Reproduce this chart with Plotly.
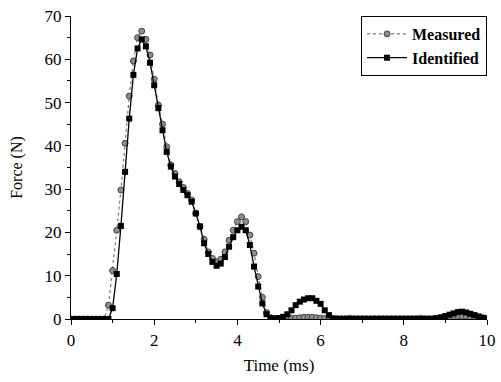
import plotly.graph_objects as go

time_ms = [
    0.0, 0.1, 0.2, 0.3, 0.4, 0.5, 0.6, 0.7, 0.8, 0.9,
    1.0, 1.1, 1.2, 1.3, 1.4, 1.5, 1.6, 1.7, 1.8, 1.9,
    2.0, 2.1, 2.2, 2.3, 2.4, 2.5, 2.6, 2.7, 2.8, 2.9,
    3.0, 3.1, 3.2, 3.3, 3.4, 3.5, 3.6, 3.7, 3.8, 3.9,
    4.0, 4.1, 4.2, 4.3, 4.4, 4.5, 4.6, 4.7, 4.8, 4.9,
    5.0, 5.1, 5.2, 5.3, 5.4, 5.5, 5.6, 5.7, 5.8, 5.9,
    6.0, 6.1, 6.2, 6.3, 6.4, 6.5, 6.6, 6.7, 6.8, 6.9,
    7.0, 7.1, 7.2, 7.3, 7.4, 7.5, 7.6, 7.7, 7.8, 7.9,
    8.0, 8.1, 8.2, 8.3, 8.4, 8.5, 8.6, 8.7, 8.8, 8.9,
    9.0, 9.1, 9.2, 9.3, 9.4, 9.5, 9.6, 9.7, 9.8, 9.9,
    10.0,
]

measured = [
    0, 0, 0, 0, 0, 0, 0, 0, 0, 3.2,
    11.2, 20.5, 29.8, 40.6, 51.5, 59.6, 65.0, 66.5, 64.6, 61.0,
    55.4, 49.4, 45.0, 39.8, 35.6, 33.6, 31.7, 30.4, 29.0, 27.5,
    24.4, 21.3, 18.4, 15.5, 14.0, 13.2, 13.8, 15.5, 18.2, 20.5,
    22.5, 23.6, 22.5, 19.4, 15.2, 9.8, 5.0, 1.5, 0.3, 0.1,
    0.1, 0.1, 0.1, 0.2, 0.2, 0.3, 0.4, 0.4, 0.4, 0.3,
    0.2, 0.1, 0.1, 0.1, 0.1, 0.1, 0.1, 0.2, 0.1, 0.1,
    0.1, 0.1, 0.1, 0.1, 0.1, 0.1, 0.1, 0.1, 0.1, 0.1,
    0.1, 0.1, 0.1, 0.1, 0.2, 0.1, 0.1, 0.1, 0.1, 0.2,
    0.3, 0.4, 0.5, 0.6, 0.6, 0.6, 0.5, 0.4, 0.3, 0.2,
    0.1,
]

identified = [
    0, 0, 0, 0, 0, 0, 0, 0, 0, 0,
    2.5, 10.4, 21.5, 34.0, 46.3, 56.4, 62.5, 64.6, 63.0, 59.2,
    54.0, 48.7, 43.6, 38.6, 35.2, 32.9, 31.2, 29.8, 28.6, 27.1,
    24.4, 21.4, 17.5, 15.0, 13.2, 12.3, 12.8, 14.3, 16.7, 18.9,
    20.5, 21.3, 20.5, 17.1, 12.1, 7.5, 3.6, 1.1, 0.2, 0.1,
    0.2, 0.5, 1.1, 2.0, 3.2, 4.0, 4.5, 4.8, 4.8, 4.2,
    3.5, 2.0, 0.9, 0.1, 0, 0, 0, 0, 0, 0,
    0, 0, 0, 0, 0, 0, 0, 0, 0, 0,
    0, 0, 0, 0, 0, 0, 0, 0, 0.2, 0.4,
    0.7, 1.0, 1.3, 1.6, 1.7, 1.5, 1.2, 0.9, 0.6, 0.3,
    0.1,
]

x_ticks = [0, 2, 4, 6, 8, 10]
y_ticks = [0, 10, 20, 30, 40, 50, 60, 70]

FONT = "Liberation Serif, Times New Roman, serif"

fig = go.Figure()
fig.add_trace(go.Scatter(
    x=time_ms, y=measured, name="Measured", mode="lines+markers",
    line=dict(color="#777777", width=1.2, dash="dot"),
    marker=dict(symbol="circle", size=6, color="#8c8c8c",
                line=dict(color="#444444", width=1)),
))
fig.add_trace(go.Scatter(
    x=time_ms, y=identified, name="Identified", mode="lines+markers",
    line=dict(color="black", width=1.3),
    marker=dict(symbol="square", size=6, color="black"),
))

axis_common = dict(
    showgrid=False, zeroline=False, showline=True, linecolor="black",
    linewidth=1.2, ticks="outside", ticklen=5, tickwidth=1.2, tickcolor="black",
    tickfont=dict(family=FONT, size=17, color="black"),
    automargin=False,
)

fig.update_layout(
    width=501, height=382,
    margin=dict(l=71, r=14, t=16, b=63),
    paper_bgcolor="white", plot_bgcolor="white",
    font=dict(family=FONT, color="black"),
    showlegend=True,
    legend=dict(
        x=1, y=1, xanchor="right", yanchor="top",
        bordercolor="black", borderwidth=1, bgcolor="white",
        font=dict(family=FONT, size=16, color="black", weight="bold"),
        tracegroupgap=0, itemwidth=40,
    ),
    xaxis=dict(
        range=[0, 10], tickvals=x_ticks,
        minor=dict(dtick=1, ticks="outside", ticklen=3, tickcolor="black", tickwidth=1),
        title=dict(text="Time (ms)", font=dict(family=FONT, size=17, color="black"), standoff=10),
        **axis_common,
    ),
    yaxis=dict(
        range=[0, 70], tickvals=y_ticks,
        minor=dict(dtick=5, ticks="outside", ticklen=3, tickcolor="black", tickwidth=1),
        title=dict(text="Force (N)", font=dict(family=FONT, size=16, color="black"), standoff=17),
        **axis_common,
    ),
)

fig.write_html("out.html", config={"displayModeBar": False},
               post_script="document.body.style.margin='0';")
